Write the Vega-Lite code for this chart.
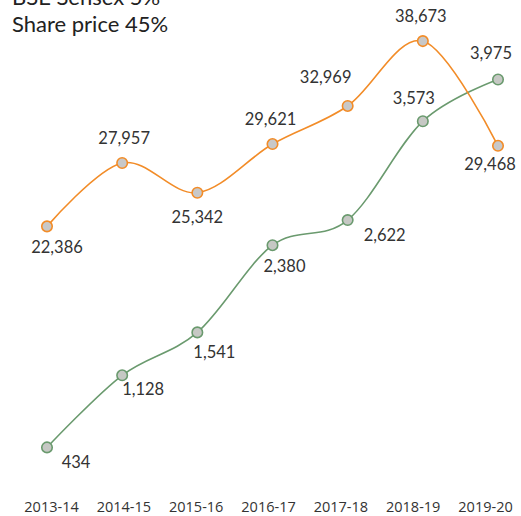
{
  "$schema": "https://vega.github.io/schema/vega-lite/v6.json",
  "width": 521,
  "height": 516,
  "autosize": "none",
  "padding": 0,
  "background": "white",
  "title": {
    "text": ["BSE Sensex 5%", "Share price 45%"],
    "anchor": "start",
    "frame": "group",
    "orient": "top",
    "offset": 0,
    "dx": 12,
    "dy": 54,
    "baseline": "alphabetic",
    "font": "Lato",
    "fontSize": 22,
    "fontWeight": "normal",
    "color": "#222222",
    "lineHeight": 27
  },
  "config": {
    "view": {"stroke": null},
    "text": {"font": "Lato", "fontSize": 16.5, "color": "#333333", "align": "center", "baseline": "middle"}
  },
  "data": {
    "values": [
      {"year": "2013-14", "sensex": 22386, "share": 434},
      {"year": "2014-15", "sensex": 27957, "share": 1128},
      {"year": "2015-16", "sensex": 25342, "share": 1541},
      {"year": "2016-17", "sensex": 29621, "share": 2380},
      {"year": "2017-18", "sensex": 32969, "share": 2622},
      {"year": "2018-19", "sensex": 38673, "share": 3573},
      {"year": "2019-20", "sensex": 29468, "share": 3975}
    ]
  },
  "layer": [
    {
      "mark": {"type": "point", "opacity": 0},
      "encoding": {
        "x": {
          "field": "year", "type": "ordinal",
          "scale": {"type": "point", "range": [51, 485], "padding": 0},
          "axis": {
            "title": null, "orient": "bottom", "domain": false, "ticks": false, "grid": false,
            "labelAngle": 0, "labelFont": "Open Sans", "labelFontSize": 14.5, "labelColor": "#333333",
            "labelBaseline": "middle", "labelPadding": 0, "offset": -9, "labelOverlap": false, "labelBound": false
          }
        }
      }
    },
    {
      "encoding": {
        "x": {"field": "year", "type": "ordinal", "scale": {"type": "point", "range": [47, 498], "padding": 0}, "axis": null},
        "y": {"field": "share", "type": "quantitative", "scale": {"domain": [0, 4000], "range": [492.5, 76.9], "zero": false, "nice": false}, "axis": null}
      },
      "layer": [
        {"mark": {"type": "line", "interpolate": "cardinal", "color": "#6A9A6E", "strokeWidth": 1.6}},
        {"mark": {"type": "point", "filled": true, "fill": "#C6C8C4", "stroke": "#6A9A6E", "strokeWidth": 1.6, "size": 110, "opacity": 1}},
        {"transform": [{"filter": "datum.year == '2013-14'"}], "mark": {"type": "text", "dx": 29, "dy": 16}, "encoding": {"text": {"field": "share", "type": "quantitative", "format": ","}}},
        {"transform": [{"filter": "datum.year == '2014-15'"}], "mark": {"type": "text", "dx": 21, "dy": 15}, "encoding": {"text": {"field": "share", "type": "quantitative", "format": ","}}},
        {"transform": [{"filter": "datum.year == '2015-16'"}], "mark": {"type": "text", "dx": 17, "dy": 21}, "encoding": {"text": {"field": "share", "type": "quantitative", "format": ","}}},
        {"transform": [{"filter": "datum.year == '2016-17'"}], "mark": {"type": "text", "dx": 12, "dy": 22}, "encoding": {"text": {"field": "share", "type": "quantitative", "format": ","}}},
        {"transform": [{"filter": "datum.year == '2017-18'"}], "mark": {"type": "text", "dx": 37, "dy": 16}, "encoding": {"text": {"field": "share", "type": "quantitative", "format": ","}}},
        {"transform": [{"filter": "datum.year == '2018-19'"}], "mark": {"type": "text", "dx": -9, "dy": -22}, "encoding": {"text": {"field": "share", "type": "quantitative", "format": ","}}},
        {"transform": [{"filter": "datum.year == '2019-20'"}], "mark": {"type": "text", "dx": -7, "dy": -25}, "encoding": {"text": {"field": "share", "type": "quantitative", "format": ","}}}
      ]
    },
    {
      "encoding": {
        "x": {"field": "year", "type": "ordinal", "scale": {"type": "point", "range": [47, 498], "padding": 0}, "axis": null},
        "y": {"field": "sensex", "type": "quantitative", "scale": {"domain": [0, 40000], "range": [481, 26], "zero": false, "nice": false}, "axis": null}
      },
      "layer": [
        {"mark": {"type": "line", "interpolate": "cardinal", "color": "#F28C28", "strokeWidth": 1.6}},
        {"mark": {"type": "point", "filled": true, "fill": "#C8C8C8", "stroke": "#F28C28", "strokeWidth": 1.6, "size": 110, "opacity": 1}},
        {"transform": [{"filter": "datum.year == '2013-14'"}], "mark": {"type": "text", "dx": 10, "dy": 22}, "encoding": {"text": {"field": "sensex", "type": "quantitative", "format": ","}}},
        {"transform": [{"filter": "datum.year == '2014-15'"}], "mark": {"type": "text", "dx": 2, "dy": -24}, "encoding": {"text": {"field": "sensex", "type": "quantitative", "format": ","}}},
        {"transform": [{"filter": "datum.year == '2015-16'"}], "mark": {"type": "text", "dx": 0, "dy": 25}, "encoding": {"text": {"field": "sensex", "type": "quantitative", "format": ","}}},
        {"transform": [{"filter": "datum.year == '2016-17'"}], "mark": {"type": "text", "dx": -2, "dy": -24}, "encoding": {"text": {"field": "sensex", "type": "quantitative", "format": ","}}},
        {"transform": [{"filter": "datum.year == '2017-18'"}], "mark": {"type": "text", "dx": -22, "dy": -28}, "encoding": {"text": {"field": "sensex", "type": "quantitative", "format": ","}}},
        {"transform": [{"filter": "datum.year == '2018-19'"}], "mark": {"type": "text", "dx": -2, "dy": -24}, "encoding": {"text": {"field": "sensex", "type": "quantitative", "format": ","}}},
        {"transform": [{"filter": "datum.year == '2019-20'"}], "mark": {"type": "text", "dx": -8, "dy": 19}, "encoding": {"text": {"field": "sensex", "type": "quantitative", "format": ","}}}
      ]
    }
  ],
  "resolve": {"scale": {"x": "independent", "y": "independent"}, "axis": {"x": "independent", "y": "independent"}}
}
